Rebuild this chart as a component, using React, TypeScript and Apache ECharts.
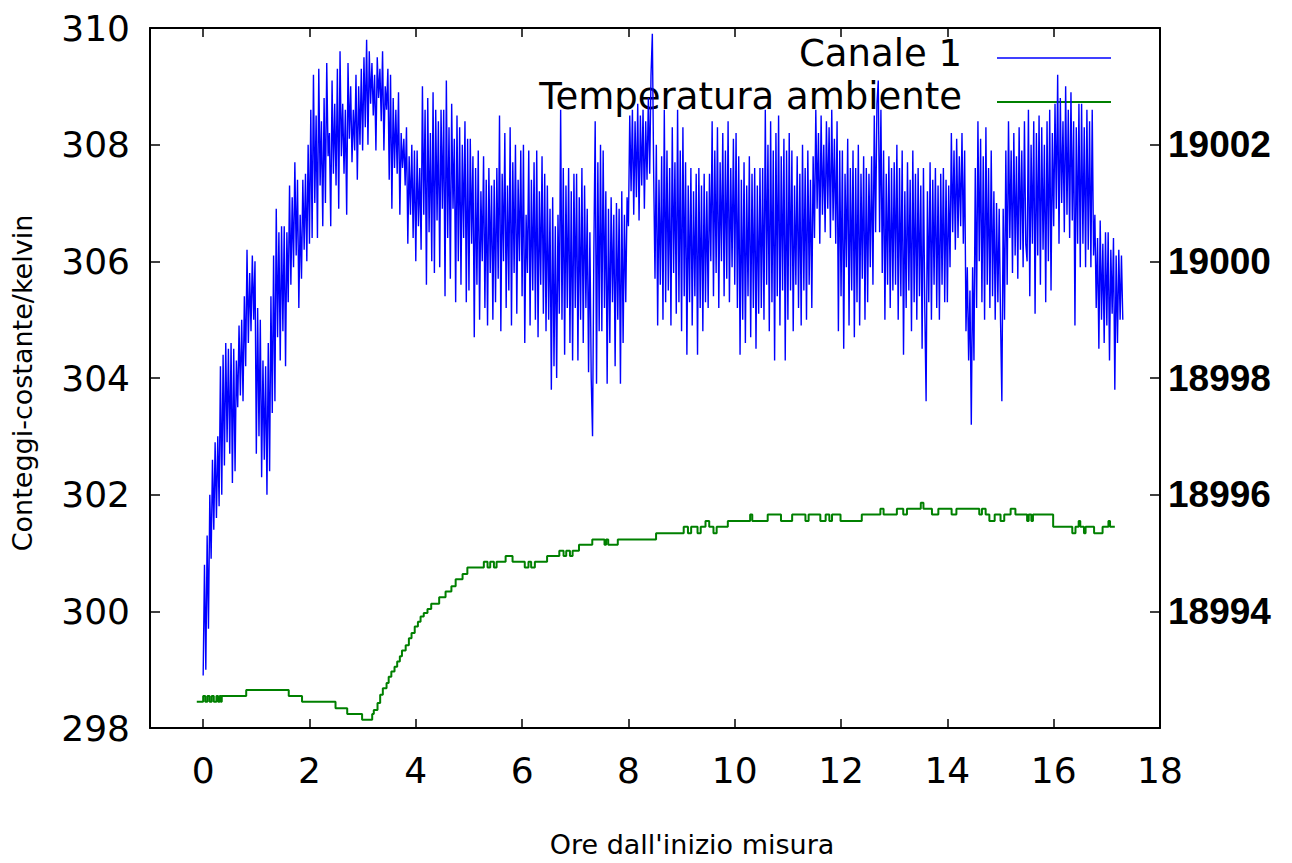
import React, { useEffect, useRef } from "react";
import * as echarts from "echarts";

// x tick labels (hours)
const xTickValues = [0, 2, 4, 6, 8, 10, 12, 14, 16, 18];

// Canale 1: sampled every 0.025 h from t = 0 (one row = 0.5 h)
const sampleStepHours = 0.025;
const canale1 = [
  298.9, 300.8, 299.0, 301.3, 299.7, 302.0, 300.9, 302.6, 301.4, 302.9, 301.6, 303.0, 301.8, 304.2, 302.0, 304.4, 302.5, 304.6, 302.9, 304.5,
  302.7, 304.6, 302.2, 304.5, 302.4, 304.3, 303.5, 304.9, 303.7, 305.0, 303.6, 305.4, 304.2, 306.2, 304.6, 305.8, 304.8, 306.1, 305.0, 306.0,
  302.7, 305.2, 303.0, 305.0, 302.3, 304.3, 302.6, 304.2, 302.0, 304.6, 302.4, 305.4, 303.4, 306.1, 303.6, 306.9, 304.7, 306.5, 304.3, 306.6,
  304.8, 306.6, 304.2, 306.5, 305.3, 307.3, 305.6, 307.1, 305.9, 307.7, 306.1, 307.4, 305.2, 306.8, 305.7, 307.4, 306.2, 307.5, 306.0, 308.0,
  306.3, 308.6, 306.4, 309.2, 307.0, 308.5, 306.4, 309.3, 307.3, 308.4, 306.6, 308.8, 307.0, 309.4, 307.8, 308.2, 306.6, 309.1, 307.5, 308.7,
  307.3, 309.3, 306.9, 309.6, 307.8, 308.7, 307.5, 308.6, 306.8, 309.4, 308.1, 309.0, 307.7, 308.6, 307.9, 309.2, 307.4, 309.0, 308.0, 309.3,
  307.9, 309.5, 308.3, 309.8, 308.0, 309.6, 308.7, 309.4, 308.5, 309.2, 307.9, 309.5, 308.8, 309.3, 308.4, 309.6, 307.9, 309.0, 308.6, 309.3,
  307.4, 309.2, 306.9, 308.8, 307.6, 308.6, 307.5, 308.9, 306.8, 308.2, 307.6, 308.1, 307.3, 308.3, 306.3, 307.8, 306.8, 308.0, 306.4, 307.9,
  306.0, 307.9, 306.6, 307.6, 306.2, 309.0, 306.8, 308.6, 305.6, 308.8, 306.5, 308.2, 306.0, 308.9, 305.8, 308.6, 306.7, 308.4, 305.9, 308.6,
  306.9, 308.6, 305.4, 309.1, 306.4, 308.3, 305.7, 308.7, 306.9, 308.1, 305.3, 308.5, 306.0, 308.3, 305.6, 308.0, 306.4, 308.4, 305.3, 308.1,
  305.5, 308.1, 306.3, 307.8, 304.7, 307.6, 305.6, 307.9, 305.0, 307.2, 306.0, 307.8, 305.2, 307.4, 304.9, 307.6, 305.8, 307.3, 305.0, 307.4,
  305.3, 307.6, 305.7, 308.5, 304.8, 307.5, 306.0, 308.2, 305.2, 307.3, 305.5, 308.3, 304.9, 307.7, 305.8, 308.0, 305.1, 307.4, 306.0, 307.9,
  305.4, 308.0, 304.6, 306.8, 305.8, 307.9, 304.9, 307.4, 305.5, 307.7, 305.0, 307.9, 304.7, 307.2, 305.6, 307.8, 305.1, 307.5, 304.8, 307.3,
  305.0, 306.9, 303.8, 307.1, 304.2, 306.6, 304.0, 306.8, 305.1, 308.6, 305.0, 307.6, 304.4, 307.3, 305.2, 307.6, 304.6, 307.2, 304.3, 307.5,
  305.2, 307.5, 304.3, 307.1, 305.0, 307.6, 304.6, 307.3, 305.2, 306.9, 304.1, 306.5, 304.0, 303.0, 306.2, 308.4, 303.9, 307.7, 304.8, 308.0,
  304.8, 307.9, 305.2, 307.2, 303.9, 306.9, 304.6, 307.1, 305.3, 306.8, 304.2, 307.0, 305.0, 306.9, 303.9, 307.2, 304.6, 306.8, 305.3, 307.1,
  306.6, 308.5, 307.2, 308.6, 306.8, 308.4, 307.1, 308.7, 306.7, 308.5, 307.3, 308.6, 306.9, 308.4, 307.4, 308.8, 307.5, 309.2, 309.9, 307.5,
  305.7, 308.0, 304.9, 307.4, 305.6, 307.8, 305.0, 308.6, 305.3, 307.9, 305.5, 307.6, 304.9, 308.3, 305.8, 307.7, 305.1, 308.6, 305.3, 307.9,
  304.8, 308.3, 305.4, 307.7, 304.4, 307.3, 305.3, 307.6, 304.9, 307.2, 305.4, 307.5, 304.4, 307.6, 305.2, 307.3, 304.8, 307.5, 305.3, 307.2,
  305.2, 307.5, 306.0, 308.4, 305.4, 307.9, 305.8, 308.3, 305.2, 307.7, 306.0, 308.2, 305.4, 307.9, 305.7, 308.4, 305.3, 307.6, 305.9, 308.1,
  305.6, 308.2, 305.2, 307.8, 304.4, 307.4, 305.0, 307.7, 304.6, 307.3, 305.4, 307.8, 304.7, 307.5, 305.2, 307.6, 304.5, 307.3, 305.1, 307.6,
  305.2, 307.6, 305.0, 308.6, 305.6, 308.0, 304.8, 308.4, 305.3, 307.9, 304.3, 308.2, 305.4, 308.5, 304.9, 307.8, 305.5, 308.1, 304.3, 307.9,
  305.0, 308.2, 305.5, 307.9, 304.8, 307.3, 305.6, 307.8, 305.2, 307.5, 304.9, 308.0, 305.5, 307.6, 305.0, 307.9, 305.6, 307.4, 305.2, 307.8,
  306.4, 308.6, 306.9, 308.2, 306.3, 308.5, 306.8, 308.0, 306.5, 308.4, 306.9, 308.3, 306.4, 308.6, 306.7, 308.1, 306.3, 308.4, 304.8, 307.9,
  305.4, 307.9, 304.5, 307.5, 305.9, 308.1, 304.9, 307.6, 305.5, 307.9, 304.7, 307.6, 305.3, 308.0, 304.9, 307.5, 305.7, 307.8, 305.0, 307.6,
  305.3, 307.5, 305.9, 307.8, 305.6, 308.5, 306.5, 308.7, 309.1, 306.5, 308.6, 305.8, 307.9, 305.0, 307.5, 305.6, 307.8, 305.2, 307.6, 305.5,
  307.7, 305.6, 308.0, 305.0, 307.6, 305.4, 307.9, 304.4, 307.2, 305.2, 307.7, 305.5, 307.4, 304.8, 307.9, 305.3, 307.5, 305.0, 307.6, 305.4,
  307.3, 304.5, 307.6, 305.2, 303.6, 307.2, 305.3, 307.7, 305.0, 307.4, 305.6, 307.6, 305.2, 307.3, 305.0, 307.5, 305.6, 307.6, 305.3, 307.4,
  305.3, 307.3, 305.9, 308.2, 306.5, 307.9, 306.2, 308.1, 306.4, 307.8, 306.6, 308.2, 306.3, 307.9, 304.8, 305.9, 304.3, 305.5, 303.2, 305.9,
  304.3, 307.6, 305.2, 308.4, 306.0, 308.1, 305.3, 307.8, 305.0, 308.3, 305.6, 307.6, 305.2, 307.9, 305.4, 307.2, 305.0, 307.0, 305.3, 306.9,
  305.0, 303.6, 306.9, 305.0, 307.9, 305.6, 308.4, 306.4, 307.9, 305.8, 308.2, 306.1, 307.8, 305.7, 308.3, 306.2, 307.9, 305.9, 308.4, 306.3,
  306.0, 308.6, 305.4, 308.0, 306.3, 308.4, 305.1, 308.2, 306.1, 308.5, 305.6, 308.3, 306.2, 308.0, 305.3, 308.4, 306.0, 308.6, 305.5, 308.2,
  306.6, 308.7, 306.9, 309.2, 306.3, 308.8, 307.0, 308.4, 306.5, 309.0, 306.8, 308.6, 306.4, 308.9, 306.7, 308.4, 304.9, 308.3, 306.3, 308.7,
  305.9, 308.7, 306.3, 308.3, 305.9, 308.6, 306.2, 308.4, 305.9, 308.6, 306.1, 306.8, 305.2, 306.4, 304.5, 306.7, 305.0, 306.3, 304.6, 306.5,
  304.9, 306.5, 304.3, 306.2, 305.1, 306.4, 303.8, 306.1, 304.6, 306.2, 305.0, 306.1, 305.0,
];

// Temperatura ambiente: change points (hours) and held values (kelvin)
const tempHours = [
  -0.12, 0.0, 0.04, 0.08, 0.12, 0.16, 0.2, 0.25, 0.28, 0.31, 0.33, 0.35,
  0.81, 1.61, 1.86, 2.49, 2.71, 2.99,
  3.18, 3.21, 3.28, 3.33, 3.38, 3.45, 3.49, 3.54, 3.6, 3.65, 3.7, 3.74, 3.81, 3.87, 3.92, 3.98,
  4.04, 4.09, 4.15, 4.22, 4.29, 4.44, 4.56, 4.67, 4.75, 4.88, 4.97,
  5.28, 5.35, 5.4, 5.47, 5.52, 5.69, 5.82, 6.05, 6.12, 6.17, 6.24,
  6.47, 6.7, 6.78, 6.83, 6.9, 6.95, 7.07, 7.32, 7.55, 7.58, 7.62, 7.8,
  8.52, 9.04, 9.12, 9.18, 9.3, 9.36, 9.45, 9.52, 9.6, 9.66,
  9.87, 10.29, 10.33, 10.62, 10.87, 11.08, 11.33, 11.39, 11.61, 11.71, 11.78, 11.83, 11.99,
  12.39, 12.74, 12.8, 13.05, 13.17, 13.24, 13.5, 13.55, 13.71, 13.83, 14.08, 14.17,
  14.6, 14.65, 14.72, 14.79, 14.89, 15.0, 15.07, 15.19, 15.28, 15.5, 15.53, 15.58, 15.61,
  15.99, 16.35, 16.41, 16.47, 16.5, 16.57, 16.6, 16.76, 16.92, 17.03, 17.06, 17.15,
];
const tempKelvin = [
  298.45, 298.55, 298.45, 298.55, 298.45, 298.55, 298.45, 298.55, 298.45, 298.55, 298.45, 298.55,
  298.65, 298.55, 298.45, 298.34, 298.24, 298.14,
  298.24, 298.31, 298.43, 298.57, 298.68, 298.77, 298.88, 298.97, 299.05, 299.14, 299.23, 299.33, 299.42, 299.54, 299.63, 299.74,
  299.82, 299.91, 299.97, 300.04, 300.13, 300.24, 300.34, 300.43, 300.55, 300.64, 300.75,
  300.85, 300.75, 300.85, 300.75, 300.85, 300.95, 300.85, 300.75, 300.85, 300.75, 300.85,
  300.95, 301.04, 300.95, 301.04, 300.95, 301.04, 301.14, 301.23, 301.14, 301.23, 301.14, 301.23,
  301.34, 301.45, 301.34, 301.45, 301.34, 301.45, 301.55, 301.45, 301.34, 301.45,
  301.55, 301.66, 301.55, 301.66, 301.55, 301.66, 301.55, 301.66, 301.55, 301.66, 301.55, 301.66, 301.55,
  301.66, 301.76, 301.66, 301.76, 301.66, 301.76, 301.86, 301.76, 301.66, 301.76, 301.66, 301.76,
  301.66, 301.76, 301.66, 301.55, 301.66, 301.55, 301.66, 301.76, 301.66, 301.55, 301.66, 301.55, 301.66,
  301.45, 301.34, 301.45, 301.55, 301.45, 301.34, 301.45, 301.34, 301.45, 301.55, 301.45, 301.45,
];

const FONT = "DejaVu Sans";

export default function App() {
  const ref = useRef<HTMLDivElement>(null);

  useEffect(() => {
    if (!ref.current) return;
    const chart = echarts.init(ref.current, undefined, { renderer: "svg" });

    const blueData = canale1.map((v, i) => [i * sampleStepHours, v]);
    const greenData = tempHours.map((h, i) => [h, tempKelvin[i]]);

    const axisLineStyle = { color: "#000", width: 2 };
    const tickLineStyle = { color: "#000", width: 1.5 };

    chart.setOption({
      animation: false,
      backgroundColor: "#fff",
      grid: { left: 150, top: 28, width: 1010, height: 700, containLabel: false },
      xAxis: [
        {
          type: "value",
          min: -1,
          max: 18,
          position: "bottom",
          splitLine: { show: false },
          axisLine: { show: true, onZero: false, lineStyle: axisLineStyle },
          axisTick: { show: true, inside: true, length: 9, customValues: xTickValues, lineStyle: tickLineStyle },
          axisLabel: { customValues: xTickValues, margin: 24, fontFamily: FONT, fontSize: 36, color: "#000" },
        },
        {
          type: "value",
          min: -1,
          max: 18,
          position: "top",
          splitLine: { show: false },
          axisLine: { show: true, onZero: false, lineStyle: axisLineStyle },
          axisTick: { show: true, inside: true, length: 9, customValues: xTickValues, lineStyle: tickLineStyle },
          axisLabel: { show: false },
        },
      ],
      yAxis: [
        {
          type: "value",
          min: 298,
          max: 310,
          interval: 2,
          position: "left",
          splitLine: { show: false },
          axisLine: { show: true, onZero: false, lineStyle: axisLineStyle },
          axisTick: { show: true, inside: true, length: 10, lineStyle: tickLineStyle },
          axisLabel: { margin: 20, fontFamily: FONT, fontSize: 36, color: "#000" },
        },
        {
          type: "value",
          min: 18992,
          max: 19004,
          interval: 2,
          position: "right",
          splitLine: { show: false },
          axisLine: { show: true, onZero: false, lineStyle: axisLineStyle },
          axisTick: { show: true, inside: true, length: 10, lineStyle: tickLineStyle },
          axisLabel: {
            margin: 8,
            showMinLabel: false,
            showMaxLabel: false,
            formatter: (v: number) => String(v),
            fontFamily: "Liberation Sans",
            fontWeight: "bold",
            fontSize: 37,
            color: "#000",
          },
        },
      ],
      series: [
        {
          type: "line",
          name: "Canale 1",
          xAxisIndex: 0,
          yAxisIndex: 0,
          data: blueData,
          showSymbol: false,
          symbol: "none",
          lineStyle: { color: "#0000ff", width: 1.4 },
          itemStyle: { color: "#0000ff" },
          z: 3,
        },
        {
          type: "line",
          name: "Temperatura ambiente",
          xAxisIndex: 0,
          yAxisIndex: 0,
          data: greenData,
          step: "end",
          showSymbol: false,
          symbol: "none",
          lineStyle: { color: "#008000", width: 2 },
          itemStyle: { color: "#008000" },
          z: 3,
        },
      ],
      graphic: [
        {
          type: "text",
          x: 962,
          y: 53,
          style: { text: "Canale 1", fill: "#000", fontFamily: FONT, fontSize: 37, align: "right", verticalAlign: "middle" },
        },
        {
          type: "line",
          shape: { x1: 997, y1: 58, x2: 1111, y2: 58 },
          style: { stroke: "#0000ff", lineWidth: 1.5 },
        },
        {
          type: "text",
          x: 962,
          y: 96,
          style: { text: "Temperatura ambiente", fill: "#000", fontFamily: FONT, fontSize: 37, align: "right", verticalAlign: "middle" },
        },
        {
          type: "line",
          shape: { x1: 997, y1: 102, x2: 1111, y2: 102 },
          style: { stroke: "#008000", lineWidth: 2 },
        },
        {
          type: "text",
          x: 692,
          y: 844,
          style: { text: "Ore dall'inizio misura", fill: "#000", fontFamily: FONT, fontSize: 27, align: "center", verticalAlign: "middle" },
        },
        {
          type: "text",
          x: 22,
          y: 383,
          rotation: Math.PI / 2,
          style: { text: "Conteggi-costante/kelvin", fill: "#000", fontFamily: FONT, fontSize: 27, align: "center", verticalAlign: "middle" },
        },
      ],
    });

    return () => chart.dispose();
  }, []);

  return (
    <div
      ref={ref}
      style={{ position: "fixed", left: 0, top: 0, width: 1292, height: 863, background: "#fff" }}
    />
  );
}
